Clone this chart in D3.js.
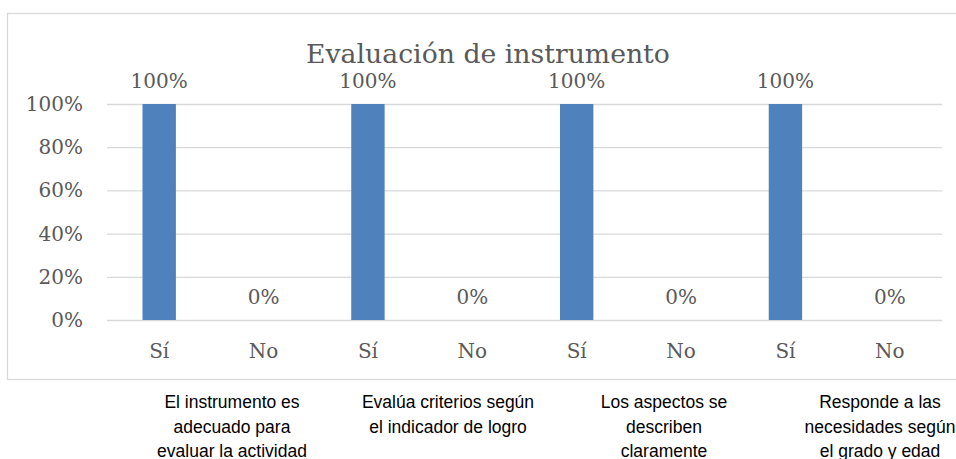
<!DOCTYPE html>
<html>
<head>
<meta charset="utf-8">
<script src="https://d3js.org/d3.v7.min.js"></script>
<style>
  body { margin: 0; background: #fff; }
  svg { display: block; }
</style>
</head>
<body>
<svg id="viz"></svg>
<script>
// data
var categories = ["Sí", "No", "Sí", "No", "Sí", "No", "Sí", "No"];
var values = [1, 0, 1, 0, 1, 0, 1, 0];
var groupLabels = [
    ["El instrumento es", "adecuado para", "evaluar la actividad"],
    ["Evalúa criterios según", "el indicador de logro"],
    ["Los aspectos se", "describen", "claramente"],
    ["Responde a las", "necesidades según", "el grado y edad"]
];
var yTicks = [0, 0.2, 0.4, 0.6, 0.8, 1];
var title = "Evaluación de instrumento";

var width = 956, height = 459;
var textColor = "#595959";
var gridColor = "#d9d9d9";
var serif = "'DejaVu Serif', serif";
var sans = "'Liberation Sans', Arial, sans-serif";

var svg = d3.select("#viz").attr("width", width).attr("height", height);

// chart frame
svg.append("rect")
    .attr("x", 7.5).attr("y", 13.5)
    .attr("width", 966).attr("height", 366)
    .attr("fill", "none")
    .attr("stroke", gridColor)
    .attr("stroke-width", 1.3);

var x = d3.scaleBand()
    .domain(d3.range(categories.length))
    .range([107, 942])
    .paddingInner(0.68)
    .paddingOuter(0.34);

var y = d3.scaleLinear().domain([0, 1]).range([320, 104]);
var pct = d3.format(".0%");

// gridlines + y labels
var yAxis = d3.axisLeft(y).tickValues(yTicks).tickFormat(pct)
    .tickSize(-(942 - 107)).tickPadding(24);
var gy = svg.append("g").attr("transform", "translate(107,0)").call(yAxis);
gy.select(".domain").remove();
gy.selectAll(".tick line").attr("stroke", gridColor).attr("stroke-width", 1.3);
gy.selectAll(".tick text")
    .attr("fill", textColor)
    .style("font-family", serif)
    .style("font-size", "20px");

// bars
svg.append("g").selectAll("rect")
    .data(values)
    .enter()
    .append("rect")
    .attr("x", function(d, i) { return x(i); })
    .attr("y", function(d) { return y(d); })
    .attr("width", x.bandwidth())
    .attr("height", function(d) { return y(0) - y(d); })
    .attr("fill", "#4f81bd");

// data labels
svg.append("g").selectAll("text")
    .data(values)
    .enter()
    .append("text")
    .attr("x", function(d, i) { return x(i) + x.bandwidth() / 2; })
    .attr("y", function(d) { return y(d) - 16; })
    .attr("text-anchor", "middle")
    .attr("fill", textColor)
    .style("font-family", serif)
    .style("font-size", "20px")
    .text(function(d) { return pct(d); });

// category ticks
svg.append("g").selectAll("text")
    .data(categories)
    .enter()
    .append("text")
    .attr("x", function(d, i) { return x(i) + x.bandwidth() / 2; })
    .attr("y", 358)
    .attr("text-anchor", "middle")
    .attr("fill", textColor)
    .style("font-family", serif)
    .style("font-size", "20px")
    .text(function(d) { return d; });

// group labels under the frame
var gx = d3.scalePoint().domain(d3.range(groupLabels.length)).range([232, 880]);
var grp = svg.append("g").selectAll("text")
    .data(groupLabels)
    .enter()
    .append("text")
    .attr("text-anchor", "middle")
    .attr("fill", "#000")
    .style("font-family", sans)
    .style("font-size", "17.5px");
grp.selectAll("tspan")
    .data(function(d, i) { return d.map(function(t) { return {t: t, i: i}; }); })
    .enter()
    .append("tspan")
    .attr("x", function(d) { return gx(d.i); })
    .attr("y", function(d, j) { return 408 + j * 24.5; })
    .text(function(d) { return d.t; });

// title
svg.append("text")
    .attr("x", 488)
    .attr("y", 63)
    .attr("text-anchor", "middle")
    .attr("fill", textColor)
    .style("font-family", serif)
    .style("font-size", "26.7px")
    .text(title);
</script>
</body>
</html>
